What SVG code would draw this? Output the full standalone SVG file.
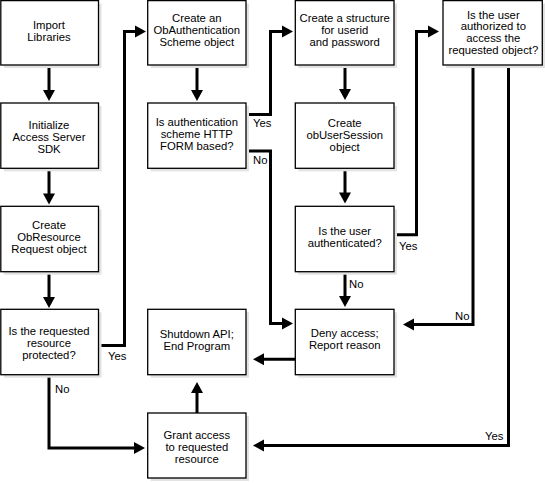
<svg xmlns="http://www.w3.org/2000/svg" width="545" height="483" viewBox="0 0 545 483">
<style>
  .sh { fill: #e2e2e2; stroke: none; }
  .bx { fill: #ffffff; stroke: #000000; stroke-width: 1.3; }
  .t { font-family: "Liberation Sans", Arial, sans-serif; font-size: 11.3px; fill: #000000; text-anchor: middle; }
  .lb { font-family: "Liberation Sans", Arial, sans-serif; font-size: 11.3px; fill: #000000; text-anchor: start; }
  .cn { fill: none; stroke: #000000; stroke-width: 3; stroke-linejoin: miter; stroke-linecap: butt; marker-end: url(#ah); }
</style>
<defs>
  <marker id="ah" markerUnits="userSpaceOnUse" markerWidth="12" markerHeight="12" refX="3" refY="6" orient="auto" overflow="visible">
    <path d="M0,0 L11,6 L0,12 Z" fill="#000000"/>
  </marker>
</defs>
<rect width="545" height="483" fill="#ffffff"/>

<g id="connectors">
  <path class="cn" d="M49,65.5 V93"/>
  <path class="cn" d="M49,168.5 V196.5"/>
  <path class="cn" d="M49,271.7 V300"/>
  <path class="cn" d="M98.5,345.5 H124.5 V31.5 H138"/>
  <path class="cn" d="M49,375 V448 H137"/>
  <path class="cn" d="M197,65 V93"/>
  <path class="cn" d="M246,114.5 H270.5 V31.5 H285"/>
  <path class="cn" d="M246,151 H270.5 V323.5 H285"/>
  <path class="cn" d="M345,65 V92"/>
  <path class="cn" d="M345,168.5 V195.5"/>
  <path class="cn" d="M394,234.7 H416.5 V31.5 H431"/>
  <path class="cn" d="M345,272 V299"/>
  <path class="cn" d="M473,65 V324.5 H411"/>
  <path class="cn" d="M508.5,65 V445.5 H261"/>
  <path class="cn" d="M295,359.3 H261"/>
  <path class="cn" d="M197,413 V390"/>
  <text class="lb" x="108" y="359.5">Yes</text>
  <text class="lb" x="55" y="392.5">No</text>
  <text class="lb" x="253" y="127">Yes</text>
  <text class="lb" x="253" y="164">No</text>
  <text class="lb" x="399" y="249.5">Yes</text>
  <text class="lb" x="349" y="288">No</text>
  <text class="lb" x="455" y="320">No</text>
  <text class="lb" x="485" y="440">Yes</text>
</g>

<g id="import">
  <rect class="sh" x="3.8" y="3.6" width="97.7" height="64.4"/>
  <rect class="bx" x="0.8" y="0.6" width="97.7" height="64.4"/>
  <text class="t" x="49" y="28.6">Import</text>
  <text class="t" x="49" y="40.5">Libraries</text>
</g>
<g id="initialize">
  <rect class="sh" x="3.8" y="106" width="97.7" height="65.3"/>
  <rect class="bx" x="0.8" y="103" width="97.7" height="65.3"/>
  <text class="t" x="49" y="128.8">Initialize</text>
  <text class="t" x="49" y="140.8">Access Server</text>
  <text class="t" x="49" y="152.8">SDK</text>
</g>
<g id="obresource">
  <rect class="sh" x="3.8" y="209.3" width="97.7" height="65.4"/>
  <rect class="bx" x="0.8" y="206.3" width="97.7" height="65.4"/>
  <text class="t" x="49" y="228.8">Create</text>
  <text class="t" x="49" y="240.8">ObResource</text>
  <text class="t" x="49" y="252.8">Request object</text>
</g>
<g id="protected">
  <rect class="sh" x="3.8" y="312.3" width="97.7" height="65.4"/>
  <rect class="bx" x="0.8" y="309.3" width="97.7" height="65.4"/>
  <text class="t" x="49" y="335.4">Is the requested</text>
  <text class="t" x="49" y="347.4">resource</text>
  <text class="t" x="49" y="359.4">protected?</text>
</g>

<g id="obauth">
  <rect class="sh" x="150.7" y="3.6" width="98.3" height="64.4"/>
  <rect class="bx" x="147.7" y="0.6" width="98.3" height="64.4"/>
  <text class="t" x="196.8" y="22.1">Create an</text>
  <text class="t" x="196.8" y="34.1">ObAuthentication</text>
  <text class="t" x="196.8" y="46.1">Scheme object</text>
</g>
<g id="scheme">
  <rect class="sh" x="150.7" y="106" width="98.3" height="65.3"/>
  <rect class="bx" x="147.7" y="103" width="98.3" height="65.3"/>
  <text class="t" x="196.8" y="125.5">Is authentication</text>
  <text class="t" x="196.8" y="137.5">scheme HTTP</text>
  <text class="t" x="196.8" y="149.5">FORM based?</text>
</g>
<g id="shutdown">
  <rect class="sh" x="150.7" y="312.3" width="98.3" height="65.4"/>
  <rect class="bx" x="147.7" y="309.3" width="98.3" height="65.4"/>
  <text class="t" x="196.8" y="337.5">Shutdown API;</text>
  <text class="t" x="196.8" y="349.5">End Program</text>
</g>
<g id="grant">
  <rect class="sh" x="150.7" y="416" width="98.3" height="65"/>
  <rect class="bx" x="147.7" y="413" width="98.3" height="65"/>
  <text class="t" x="196.8" y="438.8">Grant access</text>
  <text class="t" x="196.8" y="450.8">to requested</text>
  <text class="t" x="196.8" y="462.8">resource</text>
</g>

<g id="structure">
  <rect class="sh" x="298.3" y="3.6" width="98.7" height="64.4"/>
  <rect class="bx" x="295.3" y="0.6" width="98.7" height="64.4"/>
  <text class="t" x="344.7" y="22.1">Create a structure</text>
  <text class="t" x="344.7" y="34.1">for userid</text>
  <text class="t" x="344.7" y="46.1">and password</text>
</g>
<g id="usersession">
  <rect class="sh" x="298.3" y="106" width="98.7" height="65.3"/>
  <rect class="bx" x="295.3" y="103" width="98.7" height="65.3"/>
  <text class="t" x="344.7" y="127.4">Create</text>
  <text class="t" x="344.7" y="139.4">obUserSession</text>
  <text class="t" x="344.7" y="151.4">object</text>
</g>
<g id="authenticated">
  <rect class="sh" x="298.3" y="209.3" width="98.7" height="65.4"/>
  <rect class="bx" x="295.3" y="206.3" width="98.7" height="65.4"/>
  <text class="t" x="344.7" y="234.8">Is the user</text>
  <text class="t" x="344.7" y="246.6">authenticated?</text>
</g>
<g id="deny">
  <rect class="sh" x="298.3" y="312.3" width="98.7" height="65.4"/>
  <rect class="bx" x="295.3" y="309.3" width="98.7" height="65.4"/>
  <text class="t" x="344.7" y="337.4">Deny access;</text>
  <text class="t" x="344.7" y="349.4">Report reason</text>
</g>

<g id="authorized">
  <rect class="sh" x="446" y="3.6" width="99" height="64.4"/>
  <rect class="bx" x="443" y="0.6" width="99.3" height="64.4"/>
  <text class="t" x="493.3" y="18.5">Is the user</text>
  <text class="t" x="493.3" y="30.3">authorized to</text>
  <text class="t" x="493.3" y="42.1">access the</text>
  <text class="t" x="493.3" y="53.9">requested object?</text>
</g>
</svg>
